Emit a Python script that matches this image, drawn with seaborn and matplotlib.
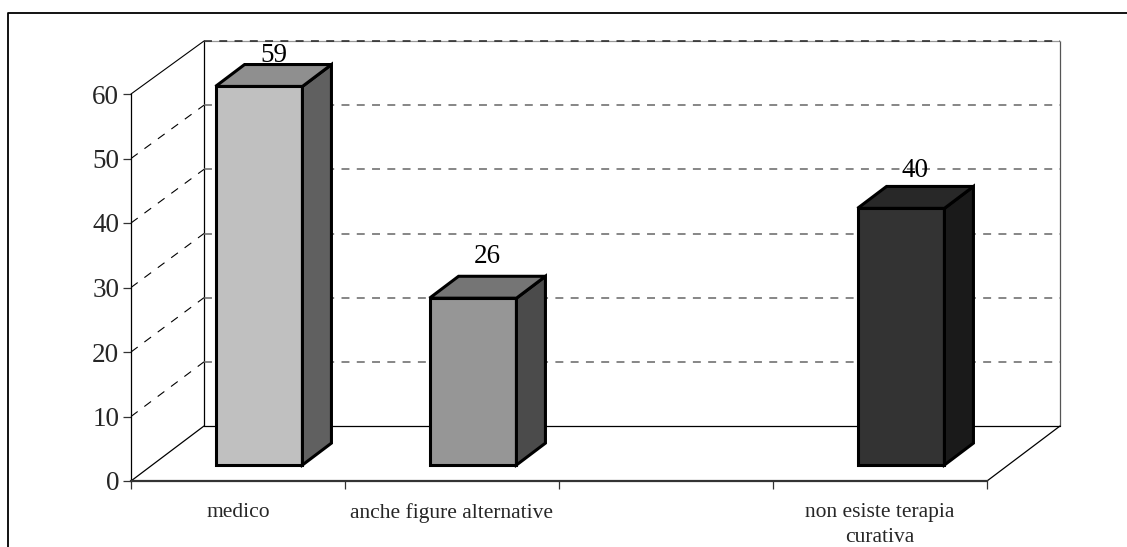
import numpy as np
import pandas as pd
import matplotlib
matplotlib.use("Agg")
import matplotlib.pyplot as plt
from matplotlib.lines import Line2D
from matplotlib.patches import Polygon
from matplotlib.transforms import Affine2D
import seaborn as sns

# Answers per category; the third slot of the chart is left empty
categories = ["medico", "anche figure alternative", " ", "non esiste terapia\ncurativa"]
values = [59, 26, np.nan, 40]
y_ticks = [0, 10, 20, 30, 40, 50, 60]
front_colors = ["#C0C0C0", "#969696", "#FFFFFF", "#333333"]
side_colors = ["#606060", "#4B4B4B", "#FFFFFF", "#1A1A1A"]
top_colors = ["#8F8F8F", "#757575", "#FFFFFF", "#282828"]

W, H = 1127, 547
LABEL_LIFT = {0: 24, 1: 35, 3: 31}

sns.set_theme(style="white")
plt.rcParams["font.family"] = ["Liberation Serif", "DejaVu Serif"]

fig = plt.figure(figsize=(W / 100, H / 100), dpi=100, facecolor="white")
ax = fig.add_axes([131 / W, (H - 481) / H, 856 / W, 387 / H])
ax.patch.set_alpha(0)

df = pd.DataFrame({"category": categories, "value": values})
sns.barplot(
    data=df, x="category", y="value", hue="category", order=categories,
    hue_order=categories, palette=dict(zip(categories, front_colors)),
    width=0.406, dodge=False, legend=False, ax=ax, edgecolor="black",
    linewidth=2.2, zorder=4,
)
ax.set_xlim(-0.5, 3.5)
ax.set_ylim(0, 60)
ax.set_xlabel("")
ax.set_ylabel("")

# Pixel offsets of the oblique projection
WALL_DX, WALL_DY = 73, 55
BAR_DX, BAR_DY = 21, 16
DEPTH_DX, DEPTH_DY = 29, 22
per_cat = 856 / 4
per_unit = 387 / 60
floor_y = H - 481
depth_scale = 385 / 387


def receded(dx, dy):
    """Data-to-pixel transform for a plane set back from the front of the box."""
    return ax.transData + (Affine2D().translate(0, -floor_y).scale(1, depth_scale)
                           .translate(dx, floor_y + dy))


# The back wall and the bars sit further away, so their scale is a touch smaller
wall = receded(WALL_DX, WALL_DY)
bar_shift = receded(BAR_DX, BAR_DY)

# Back wall, floor and side wall
line_kw = dict(color="black", lw=0.9, zorder=2, clip_on=False)
ax.plot([-0.5, -0.5], [0, 60], transform=wall, **line_kw)
ax.plot([3.5, 3.5], [0, 60], transform=wall, color="#555555", lw=0.9, zorder=2, clip_on=False)
ax.plot([-0.5, 3.5], [0, 0], transform=wall, **line_kw)
ax.plot([-0.5, 3.5], [60, 60], transform=wall, color="#999999", lw=0.9, zorder=2, clip_on=False)
for y in y_ticks[1:]:
    ax.plot([-0.5, 3.5], [y, y], transform=wall, color="#222222" if y == 60 else "#666666",
            lw=1.1, dashes=(5.2, 4.8), zorder=2, clip_on=False)
    x0, y0 = ax.transData.transform((-0.5, y))
    x1, y1 = wall.transform((-0.5, y))
    ax.add_line(Line2D([x0, x1], [y0, y1], transform=None,
                       color="black", lw=0.8, dashes=(7.5, 7.5) if y < 60 else (None, None),
                       zorder=2, clip_on=False))
for x_end in (-0.5, 3.5):
    x0, y0 = ax.transData.transform((x_end, 0))
    x1, y1 = wall.transform((x_end, 0))
    ax.add_line(Line2D([x0, x1], [y0, y1], transform=None,
                       color="black", lw=0.9, zorder=2, clip_on=False))

# Bars: the front faces come from seaborn, pushed back onto the floor,
# then get a side and a top face of their own
bars = sorted((p for p in ax.patches if p.get_height() > 0), key=lambda p: p.get_x())
drawn = [i for i, v in enumerate(values) if not np.isnan(v)]
ddx, ddy = DEPTH_DX / per_cat, DEPTH_DY / per_unit
for idx, bar in zip(drawn, bars):
    bar.set_transform(bar_shift)
    bar.set_clip_on(False)
    x1, w, h = bar.get_x(), bar.get_width(), bar.get_height()
    x2 = x1 + w
    ax.add_patch(Polygon([(x2, 0), (x2 + ddx, ddy), (x2 + ddx, h + ddy), (x2, h)],
                         closed=True, facecolor=side_colors[idx], edgecolor="black",
                         lw=2.2, joinstyle="miter", transform=bar_shift, zorder=4, clip_on=False))
    ax.add_patch(Polygon([(x1, h), (x1 + ddx, h + ddy), (x2 + ddx, h + ddy), (x2, h)],
                         closed=True, facecolor=top_colors[idx], edgecolor="black",
                         lw=2.2, joinstyle="miter", transform=bar_shift, zorder=4, clip_on=False))
    ax.annotate(f"{values[idx]:.0f}", xy=(x1 + w / 2, h), xycoords=bar_shift,
                xytext=(DEPTH_DX / 2, LABEL_LIFT[idx]), textcoords="offset pixels",
                ha="center", va="baseline", fontsize=19.5, color="black", zorder=6)

# Axes, ticks and labels
sns.despine(ax=ax, top=True, right=True)
ax.spines["left"].set(color="black", lw=0.9, zorder=3)
ax.spines["bottom"].set(color="#333333", lw=1.6, zorder=3)
ax.set_yticks(y_ticks)
ax.tick_params(axis="y", left=True, length=5.5, width=0.9, color="#333333", pad=3, labelsize=19.5)
ax.set_xticks(range(len(categories)))
ax.set_xticklabels(categories, fontsize=15.5, linespacing=1.38)
ax.set_xticks(np.arange(-0.5, 4), minor=True)
ax.tick_params(axis="x", which="major", bottom=False, pad=10)
ax.tick_params(axis="x", which="minor", bottom=True, length=5.5, width=0.9, color="#333333")

# Frame of the page around the chart, open to the right and below
fig.add_artist(Line2D([7.5 / W, 7.5 / W, 1.0], [0, (H - 13) / H, (H - 13) / H],
                      transform=fig.transFigure, color="black", lw=1.3))

fig.savefig("out.png", dpi=100, facecolor="white")
